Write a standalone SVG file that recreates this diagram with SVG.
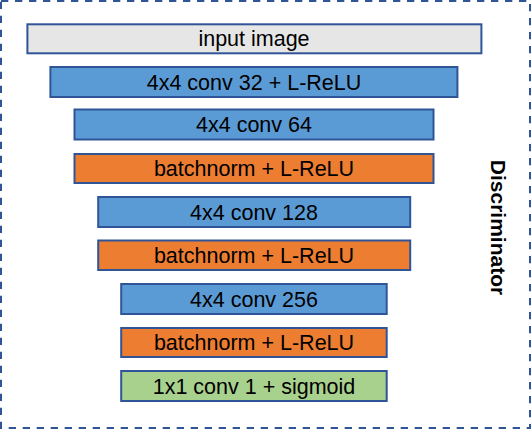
<svg xmlns="http://www.w3.org/2000/svg" width="531" height="429" viewBox="0 0 531 429">
<style>
.box{stroke:#2F5597;stroke-width:2}
.blue{fill:#5B9BD5}
.orange{fill:#ED7D31}
.green{fill:#A9D18E}
.gray{fill:#E7E6E6}
.lbl{font-family:"Liberation Sans",Arial,sans-serif;font-size:21.5px;fill:#000;text-anchor:middle}
.title{font-family:"Liberation Sans",Arial,sans-serif;font-size:21px;font-weight:bold;fill:#000;text-anchor:middle}
</style>
<rect x="1" y="1" width="529" height="427" fill="#fff" stroke="#2F5597" stroke-width="2" stroke-dasharray="7.3 6.7"/>
<g id="connectors"></g>
<g id="n-input"><rect class="box gray" x="27.4" y="24.3" width="454" height="29"/><text class="lbl" x="254" y="46.3">input image</text></g>
<g id="n-conv32"><rect class="box blue" x="50.4" y="67" width="407" height="30"/><text class="lbl" x="254" y="89.5">4x4 conv 32 + L-ReLU</text></g>
<g id="n-conv64"><rect class="box blue" x="74.5" y="109.5" width="359" height="30"/><text class="lbl" x="254" y="132">4x4 conv 64</text></g>
<g id="n-bn1"><rect class="box orange" x="74.5" y="154" width="359" height="29"/><text class="lbl" x="254" y="176">batchnorm + L-ReLU</text></g>
<g id="n-conv128"><rect class="box blue" x="98.2" y="197" width="312" height="30"/><text class="lbl" x="254" y="219.5">4x4 conv 128</text></g>
<g id="n-bn2"><rect class="box orange" x="98.2" y="240.5" width="312" height="29.5"/><text class="lbl" x="254" y="263">batchnorm + L-ReLU</text></g>
<g id="n-conv256"><rect class="box blue" x="121.2" y="284" width="265.5" height="30"/><text class="lbl" x="254" y="306.5">4x4 conv 256</text></g>
<g id="n-bn3"><rect class="box orange" x="121.2" y="328" width="265.5" height="29"/><text class="lbl" x="254" y="350">batchnorm + L-ReLU</text></g>
<g id="n-out"><rect class="box green" x="121.2" y="371" width="265.5" height="30"/><text class="lbl" x="254" y="393.5">1x1 conv 1 + sigmoid</text></g>
<g id="n-title"><text class="title" transform="translate(491,227.5) rotate(90)" x="0" y="0">Discriminator</text></g>
</svg>
